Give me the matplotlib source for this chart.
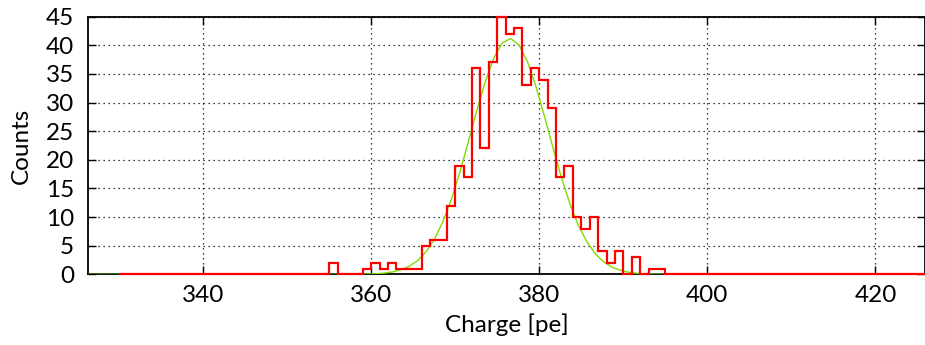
import matplotlib.pyplot as plt
import numpy as np

plt.rcParams['font.family'] = ['Lato', 'DejaVu Sans']

# histogram of charge, 1 pe bins from 330 to 426
bin_start = 330
bin_stop = 426
first_filled = 355
filled_counts = [2, 0, 0, 0, 1, 2, 1, 2, 1, 1,
                 1, 5, 6, 6, 12, 19, 17, 36, 22, 37,
                 45, 42, 43, 33, 36, 34, 29, 17, 19, 10,
                 8, 10, 4, 2, 4, 0, 3, 0, 1, 1]

# gaussian fit parameters
fit_amp = 41.2
fit_mean = 376.5
fit_sigma = 4.6

xlim = (326.3, 425.9)
ylim = (0, 45)

edges = np.arange(bin_start, bin_stop + 1)
counts = np.zeros(len(edges) - 1)
i0 = first_filled - bin_start
counts[i0:i0 + len(filled_counts)] = filled_counts

fig = plt.figure(figsize=(9.25, 3.45), dpi=100)
ax = fig.add_axes([88 / 925, 1 - 274.3 / 345, 1 - 88 / 925, (274.3 - 16.7) / 345])

xs = np.linspace(xlim[0], xlim[1], 100)
ax.plot(xs, fit_amp * np.exp(-0.5 * ((xs - fit_mean) / fit_sigma) ** 2),
        color='#7fdd00', lw=1.0, zorder=3)
ax.stairs(counts, edges, color='#ff0000', lw=1.6, zorder=4, clip_on=False)

ax.set_xlim(*xlim)
ax.set_ylim(*ylim)
ax.set_xticks([340, 360, 380, 400, 420])
ax.set_yticks(np.arange(0, 46, 5))
ax.grid(True, color='black', linestyle=(0, (1, 3)), lw=0.9, zorder=1)
ax.tick_params(direction='in', length=6, width=1, top=True, right=True,
               labelsize=17.5, pad=8)
ax.tick_params(axis='y', pad=10)
for s in ax.spines.values():
    s.set_linewidth(1.3)
ax.set_xlabel('Charge [pe]', fontsize=17.5, labelpad=5)
ax.set_ylabel('Counts', fontsize=17.5, labelpad=10)

fig.savefig('out.png', dpi=100, facecolor='white')
